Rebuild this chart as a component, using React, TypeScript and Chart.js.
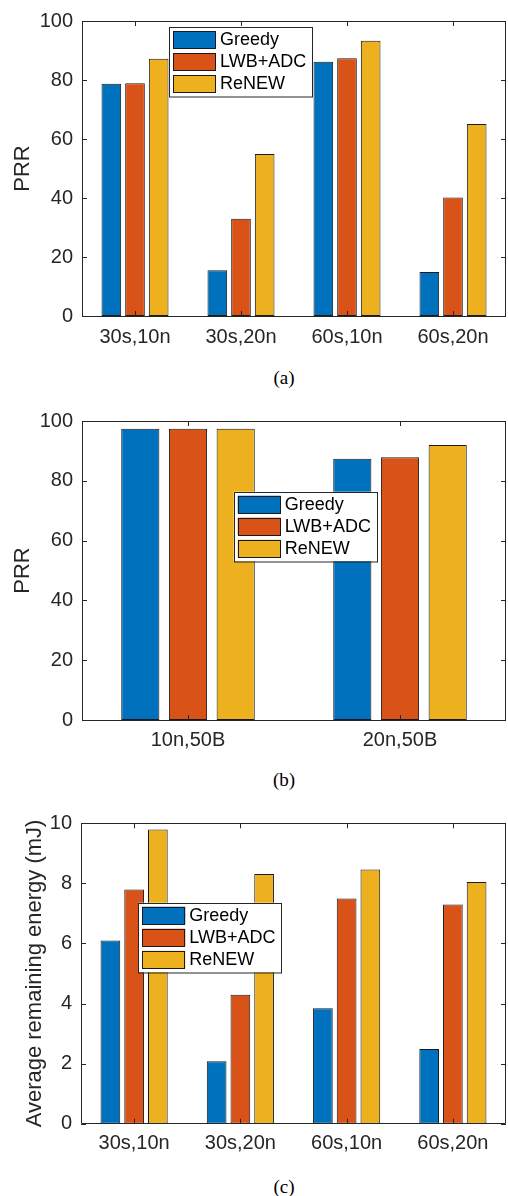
import React, { useEffect, useRef } from "react";
import { Chart, registerables } from "chart.js";

Chart.register(...registerables);

// ---------- data ----------
const seriesNames = ["Greedy", "LWB+ADC", "ReNEW"];
const seriesColors = ["#0072BD", "#D95319", "#EDB120"];

const catsA = ["30s,10n", "30s,20n", "60s,10n", "60s,20n"];
const greedyA = [78.7, 15.5, 86.2, 14.9];
const lwbA = [78.9, 33.0, 87.4, 40.2];
const renewA = [87.2, 54.9, 93.3, 65.1];

const catsB = ["10n,50B", "20n,50B"];
const greedyB = [97.4, 87.4];
const lwbB = [97.4, 87.9];
const renewB = [97.4, 92.0];

const catsC = ["30s,10n", "30s,20n", "60s,10n", "60s,20n"];
const greedyC = [6.1, 2.08, 3.84, 2.49];
const lwbC = [7.8, 4.29, 7.5, 7.3];
const renewC = [9.79, 8.31, 8.46, 8.05];

const prrTicks = [0, 20, 40, 60, 80, 100];
const energyTicks = [0, 2, 4, 6, 8, 10];

const captions = ["(a)", "(b)", "(c)"];

// ---------- styling ----------
const FONT = "'Liberation Sans', Arial, Helvetica, sans-serif";
const TEXT = "#262626";

type Geo = {
  top: number;
  height: number;
  padTop: number;
  plotLeft: number;
  xAxisH: number;
  titlePad: number;
  xPad: number;
  legend: { x: number; y: number };
  catPct: number;
  barPct: number;
};

const boxPlugin = {
  id: "matlabBox",
  afterDraw(chart: any, _args: any, opts: any) {
    const { ctx, chartArea } = chart;
    const { left, right, top, bottom } = chartArea;
    const xs = chart.scales.x;
    const ys = chart.scales.y;
    ctx.save();
    ctx.strokeStyle = TEXT;
    ctx.lineWidth = 1;
    // box
    ctx.beginPath();
    ctx.rect(Math.round(left) + 0.5, Math.round(top) + 0.5, Math.round(right - left) - 1, Math.round(bottom - top));
    ctx.stroke();
    const TL = 5;
    ctx.beginPath();
    ys.ticks.forEach((_t: any, i: number) => {
      const y = Math.round(ys.getPixelForTick(i)) + 0.5;
      ctx.moveTo(left, y);
      ctx.lineTo(left + TL, y);
      ctx.moveTo(right, y);
      ctx.lineTo(right - TL, y);
    });
    xs.ticks.forEach((_t: any, i: number) => {
      const x = Math.round(xs.getPixelForTick(i)) + 0.5;
      ctx.moveTo(x, bottom);
      ctx.lineTo(x, bottom - TL);
      ctx.moveTo(x, top);
      ctx.lineTo(x, top + TL);
    });
    ctx.stroke();

    // legend
    const lx = opts.x;
    const ly = opts.y;
    const lw = 143;
    const lh = 69.5;
    ctx.fillStyle = "#ffffff";
    ctx.fillRect(lx, ly, lw, lh);
    ctx.strokeStyle = TEXT;
    ctx.strokeRect(Math.round(lx) + 0.5, Math.round(ly) + 0.5, lw, lh);
    chart.data.datasets.forEach((ds: any, i: number) => {
      const sy = ly + 4 + i * 22;
      ctx.fillStyle = ds.backgroundColor;
      ctx.fillRect(lx + 4, sy, 43, 17.5);
      ctx.strokeStyle = "#1a1a1a";
      ctx.strokeRect(Math.round(lx + 4) + 0.5, Math.round(sy) + 0.5, 42, 17);
      ctx.fillStyle = "#000";
      ctx.font = `18px ${FONT}`;
      ctx.textBaseline = "middle";
      ctx.textAlign = "left";
      ctx.fillText(ds.label, lx + 51, sy + 9.5);
    });
    ctx.restore();
  },
};

function BarChart(props: {
  labels: string[];
  series: number[][];
  yTicks: number[];
  yTitle: string;
  geo: Geo;
}) {
  const ref = useRef<HTMLCanvasElement | null>(null);
  const { labels, series, yTicks, yTitle, geo } = props;
  useEffect(() => {
    if (!ref.current) return;
    const chart = new Chart(ref.current, {
      type: "bar",
      data: {
        labels,
        datasets: series.map((d, i) => ({
          label: seriesNames[i],
          data: d,
          backgroundColor: seriesColors[i],
          borderColor: "#1a1a1a",
          borderWidth: 1,
          borderSkipped: false,
          categoryPercentage: geo.catPct,
          barPercentage: geo.barPct,
        })),
      },
      options: {
        animation: false,
        responsive: false,
        devicePixelRatio: 1,
        layout: { padding: { left: 0, right: 2, top: geo.padTop, bottom: 0 } },
        plugins: {
          legend: { display: false },
          tooltip: { enabled: false },
          matlabBox: { x: geo.legend.x, y: geo.legend.y },
        } as any,
        scales: {
          x: {
            type: "category",
            offset: true,
            grid: { display: false, drawTicks: false },
            border: { display: false },
            ticks: {
              font: { family: FONT, size: 20 },
              color: TEXT,
              padding: geo.xPad,
              maxRotation: 0,
              autoSkip: false,
            },
            afterFit: (s: any) => {
              s.height = geo.xAxisH;
            },
          },
          y: {
            min: yTicks[0],
            max: yTicks[yTicks.length - 1],
            afterBuildTicks: (s: any) => {
              s.ticks = yTicks.map((v) => ({ value: v }));
            },
            grid: { display: false, drawTicks: false },
            border: { display: false },
            ticks: {
              font: { family: FONT, size: 20 },
              color: TEXT,
              padding: 9,
            },
            title: {
              display: true,
              text: yTitle,
              font: { family: FONT, size: 22 },
              color: TEXT,
              padding: { top: geo.titlePad, bottom: 0 },
            },
            afterFit: (s: any) => {
              s.width = geo.plotLeft;
            },
          },
        },
      },
      plugins: [boxPlugin],
    });
    return () => chart.destroy();
  }, []);
  return (
    <canvas
      ref={ref}
      width={508}
      height={geo.height}
      style={{ position: "absolute", left: 0, top: geo.top, width: 508, height: geo.height }}
    />
  );
}

const geoA: Geo = {
  top: 0,
  height: 360,
  padTop: 15.5,
  plotLeft: 82,
  xAxisH: 44,
  titlePad: 10,
  xPad: 9,
  legend: { x: 169, y: 27 },
  catPct: 0.67,
  barPct: 0.83,
};
const geoB: Geo = {
  top: 400,
  height: 360,
  padTop: 19.3,
  plotLeft: 82,
  xAxisH: 40,
  titlePad: 10,
  xPad: 8,
  legend: { x: 233.7, y: 91.7 },
  catPct: 0.675,
  barPct: 0.8,
};
const geoC: Geo = {
  top: 800,
  height: 366,
  padTop: 23.3,
  plotLeft: 81,
  xAxisH: 42.3,
  titlePad: 22,
  xPad: 8,
  legend: { x: 138.3, y: 102.7 },
  catPct: 0.67,
  barPct: 0.83,
};

const captionTops = [378, 780, 1187];

export default function App() {
  return (
    <div style={{ position: "absolute", left: 0, top: 0, width: 508, height: 1196, background: "#fff" }}>
      <BarChart labels={catsA} series={[greedyA, lwbA, renewA]} yTicks={prrTicks} yTitle="PRR" geo={geoA} />
      <BarChart labels={catsB} series={[greedyB, lwbB, renewB]} yTicks={prrTicks} yTitle="PRR" geo={geoB} />
      <BarChart
        labels={catsC}
        series={[greedyC, lwbC, renewC]}
        yTicks={energyTicks}
        yTitle="Average remaining energy (mJ)"
        geo={geoC}
      />
      {captions.map((c, i) => (
        <div
          key={c}
          style={{
            position: "absolute",
            left: 184,
            width: 200,
            top: captionTops[i] - 11,
            height: 22,
            lineHeight: "22px",
            textAlign: "center",
            fontFamily: "'Liberation Serif', 'Times New Roman', serif",
            fontSize: 19,
            color: "#000",
          }}
        >
          {c}
        </div>
      ))}
    </div>
  );
}
